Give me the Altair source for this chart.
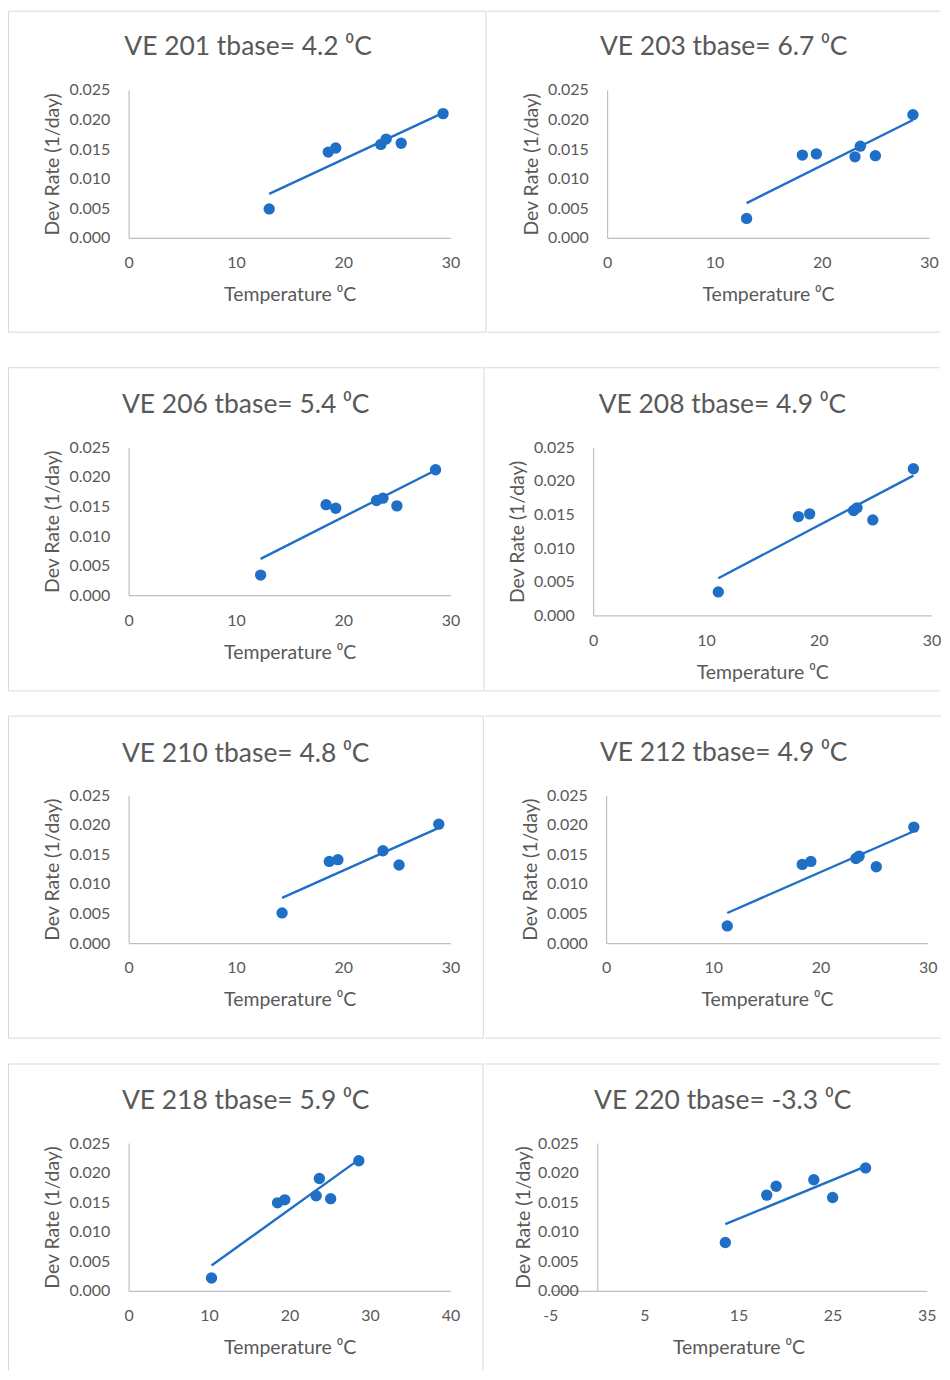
import altair as alt
import pandas as pd

# ---------------- data ----------------
TITLES = [
    "VE 201 tbase= 4.2 \u2070C", "VE 203 tbase= 6.7 \u2070C",
    "VE 206 tbase= 5.4 \u2070C", "VE 208 tbase= 4.9 \u2070C",
    "VE 210 tbase= 4.8 \u2070C", "VE 212 tbase= 4.9 \u2070C",
    "VE 218 tbase= 5.9 \u2070C", "VE 220 tbase= -3.3 \u2070C",
]
T_201 = [13.1, 18.6, 19.3, 23.5, 24.0, 25.4, 29.3]
R_201 = [0.0049, 0.0145, 0.0152, 0.0158, 0.0167, 0.0160, 0.0210]
T_203 = [13.0, 18.2, 19.5, 23.1, 23.6, 25.0, 28.5]
R_203 = [0.0033, 0.0140, 0.0142, 0.0137, 0.0155, 0.0139, 0.0208]
T_206 = [12.3, 18.4, 19.3, 23.1, 23.7, 25.0, 28.6]
R_206 = [0.0034, 0.0153, 0.0147, 0.0160, 0.0164, 0.0151, 0.0212]
T_208 = [11.1, 18.2, 19.2, 23.1, 23.4, 24.8, 28.4]
R_208 = [0.0035, 0.0147, 0.0151, 0.0156, 0.0160, 0.0142, 0.0218]
T_210 = [14.3, 18.7, 19.5, 23.7, 25.2, 28.9]
R_210 = [0.0051, 0.0138, 0.0141, 0.0156, 0.0132, 0.0201]
T_212 = [11.3, 18.3, 19.1, 23.3, 23.6, 25.2, 28.7]
R_212 = [0.0029, 0.0133, 0.0138, 0.0143, 0.0147, 0.0129, 0.0196]
T_218 = [10.3, 18.5, 19.4, 23.3, 23.7, 25.1, 28.6]
R_218 = [0.0022, 0.0149, 0.0154, 0.0161, 0.0190, 0.0156, 0.0220]
T_220 = [13.6, 18.0, 19.0, 23.0, 25.0, 28.5]
R_220 = [0.0082, 0.0162, 0.0177, 0.0188, 0.0158, 0.0208]

Y_TICKS = [0, 0.005, 0.010, 0.015, 0.020, 0.025]
X_TICKS_30 = [0, 10, 20, 30]
X_TICKS_40 = [0, 10, 20, 30, 40]
X_TICKS_220 = [-5, 5, 15, 25, 35]

X_TITLE = "Temperature \u2070C"
Y_TITLE = "Dev Rate (1/day)"

# ---------------- style ----------------
BLUE = "#1f6fc6"
TEXT = "#595959"
FRAME = "#d9d9d9"
AXIS = "#bfbfbf"
FONT = "Lato"

ONE = pd.DataFrame({"k": [0]})


def hrule(x1, x2, y):
    return alt.Chart(ONE).mark_rule(color=FRAME, strokeWidth=1).encode(
        x=alt.value(x1), x2=alt.value(x2), y=alt.value(y))


def vrule(x, y1, y2):
    return alt.Chart(ONE).mark_rule(color=FRAME, strokeWidth=1).encode(
        x=alt.value(x), y=alt.value(y1), y2=alt.value(y2))


def panel(title, temps, rates, w, h, xdom, xticks, fl, fr, ft, fb, sides,
          tx, ty, yoff=0, ytp=6):
    df = pd.DataFrame({"T": temps, "rate": rates})
    xs = alt.Scale(domain=xdom, nice=False, zero=False)
    ys = alt.Scale(domain=[0, 0.025], nice=False)
    xax = alt.Axis(values=xticks, labelExpr="datum.value + ''", title=X_TITLE,
                   labelPadding=17, titlePadding=15, labelFlush=False)
    yax = alt.Axis(values=Y_TICKS, format=".3f", title=Y_TITLE,
                   labelPadding=19, titlePadding=ytp, offset=yoff,
                   labelFlush=False)
    enc = dict(x=alt.X("T:Q", scale=xs, axis=xax),
               y=alt.Y("rate:Q", scale=ys, axis=yax))
    line = alt.Chart(df).transform_regression("T", "rate").mark_line(
        color=BLUE, strokeWidth=2.4).encode(**enc)
    pts = alt.Chart(df).mark_circle(size=130, color=BLUE, opacity=1).encode(**enc)
    ttl = alt.Chart(pd.DataFrame({"t": [title]})).mark_text(
        font=FONT, fontSize=26.5, color=TEXT, align="center",
        baseline="alphabetic").encode(x=alt.value(tx), y=alt.value(ty), text="t:N")
    frames = []
    if "t" in sides:
        frames.append(hrule(fl, fr, ft))
    if "b" in sides:
        frames.append(hrule(fl, fr, fb))
    if "l" in sides:
        frames.append(vrule(fl, ft, fb))
    if "r" in sides:
        frames.append(vrule(fr, ft, fb))
    return alt.layer(*frames, line, pts, ttl).properties(width=w, height=h)


p1 = panel(TITLES[0], T_201, R_201, 323, 148.5, [0, 30], X_TICKS_30,
           -120.5, 358.5, -79, 243, "tblr", 119.8, -35)
p2 = panel(TITLES[1], T_203, R_203, 323, 148.5, [0, 30], X_TICKS_30,
           -120, 334, -79, 243, "tb", 117, -35)
p3 = panel(TITLES[2], T_206, R_206, 323, 148.4, [0, 30], X_TICKS_30,
           -120.5, 356.5, -79.8, 244.4, "tblr", 117.5, -34)
p4 = panel(TITLES[3], T_208, R_208, 339.4, 168.7, [0, 30], X_TICKS_30,
           -108.3, 347.7, -79.8, 244.4, "tb", 129.7, -34.6)
p5 = panel(TITLES[4], T_210, R_210, 323, 148.4, [0, 30], X_TICKS_30,
           -120.5, 355.8, -79.3, 243.7, "tblr", 117.5, -33.6)
p6 = panel(TITLES[5], T_212, R_212, 322.7, 148.4, [0, 30], X_TICKS_30,
           -121, 336, -79.3, 243.7, "tb", 118, -34.6)
p7 = panel(TITLES[6], T_218, R_218, 323, 148.4, [0, 40], X_TICKS_40,
           -120.5, 355.5, -79.3, 228, "tlr", 117.5, -34)
p8 = panel(TITLES[7], T_220, R_220, 377.7, 148.4, [-5, 35], X_TICKS_220,
           -66, 391, -79.3, 228, "t", 173, -34, yoff=-47.2, ytp=4)

row1 = alt.hconcat(p1, p2, spacing=0)
row2 = alt.hconcat(p3, p4, spacing=0)
row3 = alt.hconcat(p5, p6, spacing=0)
row4 = alt.hconcat(p7, p8, spacing=0)
lower = alt.vconcat(row2, row3, row4, spacing=24)

chart = alt.vconcat(row1, lower, spacing=33.5).properties(
    padding={"left": 0, "top": 0, "right": 0, "bottom": 0},
    background="white",
).configure_view(stroke=None).configure_axis(
    grid=False, ticks=False, tickSize=0,
    domainColor=AXIS, domainWidth=1.2,
    labelFont=FONT, labelFontSize=16, labelColor=TEXT,
    titleFont=FONT, titleFontSize=19.5, titleColor=TEXT, titleFontWeight="normal",
)

chart.save("out.html", embed_options={"renderer": "svg", "actions": False})
